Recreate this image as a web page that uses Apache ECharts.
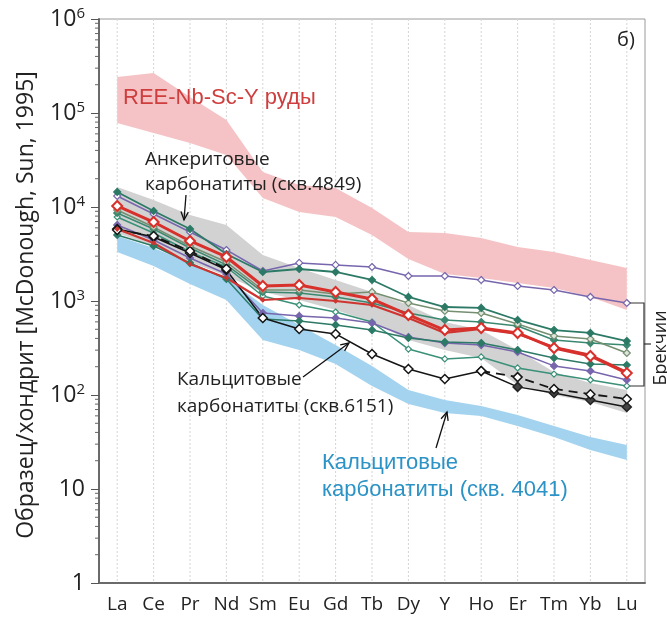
<!DOCTYPE html>
<html><head><meta charset="utf-8">
<script src="https://cdn.jsdelivr.net/npm/echarts@6/dist/echarts.min.js"></script>
<style>html,body{margin:0;padding:0;background:#fff}#c{width:667px;height:617px}</style>
</head><body><div id="c"></div>
<script>
// ---- data ----
const categories = ['La','Ce','Pr','Nd','Sm','Eu','Gd','Tb','Dy','Y','Ho','Er','Tm','Yb','Lu'];
const yTicks = [1, 10, 100, 1000, 10000, 100000, 1000000];

// bands (upper / lower envelopes)
const oreTop    = [241600, 266500, 148000, 84300, 23560, 17150, 15930, 9750, 5420, 5290, 4680, 3750, 3320, 2730, 2245];
const oreBottom = [78300, 61300, 47950, 35750, 12470, 8850, 7830, 5040, 2800, 1938, 1757, 1553, 1375, 1104, 802];
const ankTop    = [16320, 11870, 8220, 6440, 3090, 2245, 1673, 1247, 907, 598, 491, 301, 176, 134, 113];
const ankBottom = [5290, 3850, 2600, 1845, 1247, 1025, 802, 598, 385, 301, 248, 128, 100, 84.3, 64.4];
const calTop    = [4910, 3660, 2540, 1757, 907, 556, 340, 204, 113, 88.4, 76.4, 61.3, 46.8, 35.7, 29.4];
const calBottom = [3320, 2360, 1517, 1025, 385, 301, 214, 125, 80.2, 64.4, 59.8, 46.8, 35.7, 26.0, 20.4];

// individual samples
const purpleOpen  = [13100, 8430, 5420, 3490, 2085, 2540, 2420, 2300, 1845, 1845, 1673, 1444, 1309, 1104, 952];
const tealUpper   = [14450, 9070, 5830, 3160, 2035, 2190, 2035, 1673, 1104, 863, 843, 628, 491, 457, 375];
const redOpen     = [10250, 6920, 4350, 2940, 1444, 1480, 1247, 1050, 710, 491, 516, 457, 316, 260, 171];
const oliveOpen   = [9290, 6120, 3850, 2600, 1309, 1309, 1186, 1247, 952, 783, 745, 569, 425, 394, 280];
const redThin     = [5830, 4140, 2480, 1757, 1025, 1077, 1000, 907, 659, 457, 504, 446, 324, 267, 176];
const tealMid     = [8630, 5830, 3660, 2420, 1247, 1217, 1104, 952, 745, 628, 598, 542, 385, 357, 340];
const tealOpen    = [7830, 5290, 3320, 2300, 1130, 907, 764, 598, 308, 242, 254, 194, 167, 144.5, 125];
const purpleFill  = [6440, 4460, 2870, 1940, 745, 692, 659, 583, 414, 357, 340, 287, 204, 180, 144.5];
const tealLower   = [5040, 3850, 2540, 1715, 644, 613, 556, 491, 404, 366, 357, 301, 248, 214, 208];
const blackSolid  = [5830, 4800, 3240, 2140, 659, 504, 446, 273, 189, 148, 180, 122, 105, 88.4, 74.5];
const blackDashed = [5690, 4910, 3400, 2200, null, null, null, null, null, null, 180, 155, 116, 102, 90.6];

// ---- chart ----
const chart = echarts.init(document.getElementById('c'), null, {renderer: 'canvas'});

function band(name, top, bottom, color) {
  return {
    type: 'custom', name: name, silent: true, z: 1,
    data: [[0, top[0]]],
    renderItem: function (params, api) {
      const pts = [];
      for (let i = 0; i < top.length; i++) pts.push(api.coord([i, top[i]]));
      for (let i = bottom.length - 1; i >= 0; i--) pts.push(api.coord([i, bottom[i]]));
      return {type: 'polygon', shape: {points: pts}, style: {fill: color}};
    }
  };
}

function line(name, data, o) {
  return {
    type: 'line', name: name, data: data, z: o.z || 5,
    symbol: 'diamond', symbolSize: o.size || 7,
    connectNulls: false,
    lineStyle: {color: o.color, width: o.width || 1.5, type: o.dash ? [9, 6] : 'solid'},
    itemStyle: {color: o.fill, borderColor: o.color, borderWidth: o.bw || 1.2},
    emphasis: {disabled: true}, animation: false
  };
}

// vertical dotted grid at category centres
const vgrid = {
  type: 'custom', silent: true, z: 0,
  data: categories.map((c, i) => [i, 1]),
  renderItem: function (params, api) {
    const cs = params.coordSys;
    const x = api.coord([api.value(0), 1])[0];
    return {type: 'line', shape: {x1: x, y1: cs.y, x2: x, y2: cs.y + cs.height},
      style: {stroke: '#d4d4d4', lineWidth: 1, lineDash: [2, 2]}};
  }
};

// log minor ticks
const minorVals = [];
for (let d = 0; d < 6; d++) for (let m = 2; m <= 9; m++) minorVals.push([0, m * Math.pow(10, d)]);
const minorTicks = {
  type: 'custom', silent: true, z: 3,
  data: minorVals,
  renderItem: function (params, api) {
    const cs = params.coordSys;
    const y = api.coord([0, api.value(1)])[1];
    return {type: 'line', shape: {x1: cs.x - 4, y1: y, x2: cs.x, y2: y},
      style: {stroke: '#666', lineWidth: 1}};
  }
};

const C = {
  teal: '#2c7a66', tealMid: '#3b8870', olive: '#758f70', tealOpen: '#3a9078',
  purple: '#7766ad', red: '#d8312c', redThin: '#cf3530', black: '#151515'
};

const blackSolidData = blackSolid.map((v, i) => i >= 11 ? {value: v, itemStyle: {color: '#444', borderColor: '#222'}} : v);

function arrow(x1, y1, x2, y2) {
  const a = Math.atan2(y2 - y1, x2 - x1), L = 9, w = 0.42;
  const p1 = [x2 - L * Math.cos(a - w), y2 - L * Math.sin(a - w)];
  const p2 = [x2 - L * Math.cos(a + w), y2 - L * Math.sin(a + w)];
  return [
    {type: 'line', shape: {x1: x1, y1: y1, x2: x2, y2: y2}, style: {stroke: '#111', lineWidth: 1.3}, z: 100},
    {type: 'polyline', shape: {points: [p1, [x2, y2], p2]}, style: {stroke: '#111', lineWidth: 1.3, fill: null}, z: 100}
  ];
}
function txt(x, y, s, font, fill) {
  return {type: 'text', x: x, y: y, z: 100,
    style: {text: s, font: font, fill: fill, verticalAlign: 'middle', align: 'left'}};
}
const F = '"Open Sans", sans-serif';
const FA = '"Liberation Sans", Arial, sans-serif';

const option = {
  backgroundColor: '#fff',
  animation: false,
  textStyle: {fontFamily: F},
  grid: {left: 99, right: 22, top: 19, bottom: 34, show: true, borderColor: '#9a9a9a', borderWidth: 1, backgroundColor: 'transparent'},
  xAxis: {
    type: 'category', data: categories, boundaryGap: true,
    axisLine: {lineStyle: {color: '#6a6a6a', width: 2}},
    axisTick: {alignWithLabel: true, length: 5, lineStyle: {color: '#555'}},
    axisLabel: {fontSize: 19, fontFamily: F, color: '#222', margin: 12, interval: 0},
    splitLine: {show: false}
  },
  yAxis: {
    type: 'log', min: 1, max: 1000000, logBase: 10,
    axisLine: {show: true, lineStyle: {color: '#6a6a6a', width: 2}},
    axisTick: {show: true, length: 8, lineStyle: {color: '#555'}},
    splitLine: {show: false},
    axisLabel: {
      margin: 14, fontSize: 23, fontFamily: F, color: '#222',
      formatter: function (v) {
        if (v === 1) return '1';
        if (v === 10) return '10';
        return '10{s|' + Math.round(Math.log10(v)) + '}';
      },
      rich: {
        s: {fontSize: 15, fontFamily: F, color: '#222', verticalAlign: 'top', padding: [0, 0, 10, 0]}
      }
    }
  },
  graphic: [].concat(
    [{type: 'text', x: 26, y: 305, z: 100, rotation: Math.PI / 2,
      style: {text: 'Образец/хондрит [McDonough, Sun, 1995]', font: '23px ' + F, fill: '#222', align: 'center', verticalAlign: 'middle'}}],
    [txt(123, 98, 'REE-Nb-Sc-Y руды', '22px ' + FA, '#cf3e3e')],
    [txt(145, 160, 'Анкеритовые', '19px ' + F, '#222'), txt(145, 185, 'карбонатиты (скв.4849)', '19px ' + F, '#222')],
    arrow(186, 195, 184, 220),
    [txt(177, 380, 'Кальцитовые', '19px ' + F, '#222'), txt(177, 407, 'карбонатиты (скв.6151)', '19px ' + F, '#222')],
    arrow(303, 377, 349, 343),
    [txt(322, 463, 'Кальцитовые', '22px ' + FA, '#2b93c6'), txt(322, 490, 'карбонатиты (скв. 4041)', '22px ' + FA, '#2b93c6')],
    arrow(436, 448, 447, 412),
    [txt(617, 40, 'б)', '20px ' + F, '#222')],
    [{type: 'polyline', z: 100, shape: {points: [[630, 303], [644, 303], [644, 386], [630, 386]]}, style: {stroke: '#333', lineWidth: 1.2, fill: null}},
     {type: 'line', z: 100, shape: {x1: 644, y1: 344, x2: 651, y2: 344}, style: {stroke: '#333', lineWidth: 1.2}},
     {type: 'text', z: 100, x: 661, y: 348, rotation: Math.PI / 2,
      style: {text: 'Брекчии', font: '18px ' + F, fill: '#222', align: 'center', verticalAlign: 'middle'}}]
  ),
  series: [
    vgrid,
    band('ore', oreTop, oreBottom, '#f5c3c5'),
    band('ankerite', ankTop, ankBottom, '#d2d2d2'),
    band('calcite4041', calTop, calBottom, '#a3d3ef'),
    minorTicks,
    line('purpleOpen', purpleOpen, {color: C.purple, fill: '#fff', size: 7}),
    line('tealOpen', tealOpen, {color: C.tealOpen, fill: '#fff', size: 6}),
    line('purpleFill', purpleFill, {color: C.purple, fill: C.purple, size: 7}),
    line('tealLower', tealLower, {color: C.teal, fill: C.teal, size: 7}),
    line('tealMid', tealMid, {color: C.tealMid, fill: C.tealMid, size: 7}),
    line('oliveOpen', oliveOpen, {color: C.olive, fill: '#dfe5dc', size: 7}),
    line('tealUpper', tealUpper, {color: C.teal, fill: C.teal, size: 7, width: 1.8}),
    line('blackSolid', blackSolidData, {color: C.black, fill: '#fff', size: 9, bw: 1.5, width: 1.5}),
    line('blackDashed', blackDashed, {color: C.black, fill: '#fff', size: 9, bw: 1.5, width: 1.8, dash: true}),
    line('redThin', redThin, {color: C.redThin, fill: C.redThin, size: 4, width: 2.2}),
    line('redOpen', redOpen, {color: C.red, fill: '#fff', size: 10, bw: 2, width: 3, z: 6})
  ]
};
chart.setOption(option);
</script>
</body></html>
